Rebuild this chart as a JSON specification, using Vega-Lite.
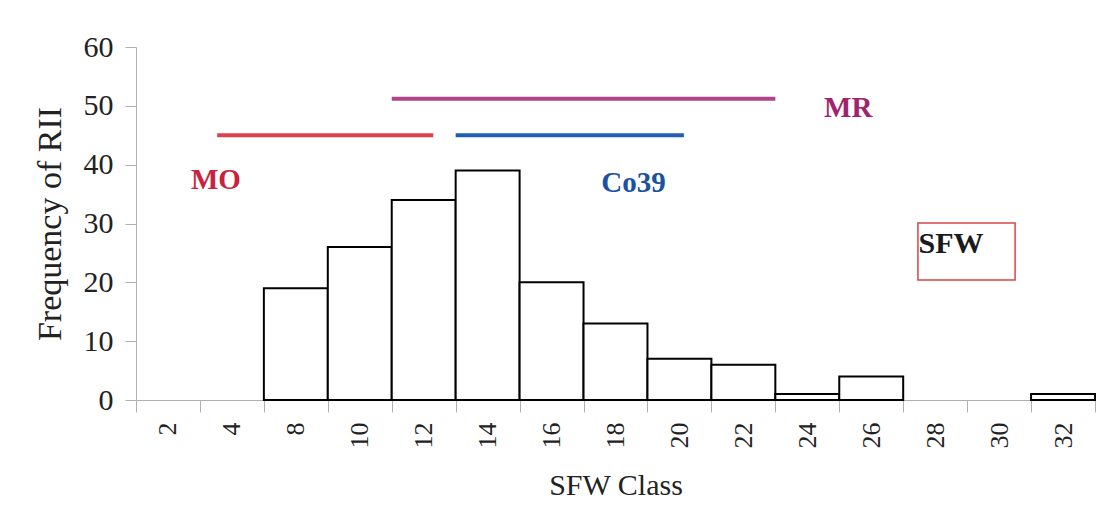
{
  "$schema": "https://vega.github.io/schema/vega-lite/v6.json",
  "autosize": {"type": "none"},
  "padding": {"left": 136, "top": 47, "right": 2, "bottom": 120},
  "width": 959,
  "height": 353,
  "background": "white",
  "config": {
    "view": {"stroke": null},
    "font": "Liberation Serif",
    "axis": {
      "labelFont": "Liberation Serif",
      "titleFont": "Liberation Serif",
      "labelColor": "#222",
      "titleColor": "#222",
      "titleFontWeight": "normal",
      "domainColor": "#b0b0b0",
      "tickColor": "#b0b0b0",
      "grid": false
    }
  },
  "datasets": {
    "classes": [
      {"sfw": 2, "freq": 0},
      {"sfw": 4, "freq": 0},
      {"sfw": 8, "freq": 19},
      {"sfw": 10, "freq": 26},
      {"sfw": 12, "freq": 34},
      {"sfw": 14, "freq": 39},
      {"sfw": 16, "freq": 20},
      {"sfw": 18, "freq": 13},
      {"sfw": 20, "freq": 7},
      {"sfw": 22, "freq": 6},
      {"sfw": 24, "freq": 1},
      {"sfw": 26, "freq": 4},
      {"sfw": 28, "freq": 0},
      {"sfw": 30, "freq": 0},
      {"sfw": 32, "freq": 1}
    ],
    "ranges": [
      {"name": "MO", "from": 1.27, "to": 4.65, "level": 45, "tx": 1.25, "ty": 37.4},
      {"name": "MR", "from": 4.0, "to": 10.0, "level": 51.2, "tx": 11.14, "ty": 49.6},
      {"name": "Co39", "from": 5.0, "to": 8.57, "level": 45, "tx": 7.78, "ty": 36.9}
    ],
    "legendBox": [
      {"label": "SFW", "x0": 12.23, "x1": 13.75, "y0": 20.4, "y1": 30.1, "tx": 12.24, "ty": 25.0}
    ]
  },
  "layer": [
    {
      "data": {"name": "classes"},
      "mark": {"type": "bar", "fill": "white", "stroke": "black", "strokeWidth": 2},
      "encoding": {
        "x": {
          "field": "sfw",
          "type": "ordinal",
          "scale": {"paddingInner": 0, "paddingOuter": 0},
          "axis": {
            "title": "SFW Class",
            "titleFont": "Liberation Serif",
            "titleFontSize": 30,
            "titlePadding": 22,
            "labelFont": "Liberation Serif",
            "labelAngle": 270,
            "labelFontSize": 26,
            "labelPadding": 10,
            "tickBand": "extent",
            "tickSize": 12
          }
        },
        "y": {
          "field": "freq",
          "type": "quantitative",
          "scale": {"domain": [0, 60], "nice": false},
          "axis": {
            "title": "Frequency  of RII",
            "titleFont": "Liberation Serif",
            "titleFontSize": 34,
            "titlePadding": 16,
            "values": [0, 10, 20, 30, 40, 50, 60],
            "labelFont": "Liberation Serif",
            "labelFontSize": 30,
            "labelPadding": 12,
            "tickSize": 11
          }
        },
        "strokeOpacity": {"condition": {"test": "datum.freq == 0", "value": 0}, "value": 1}
      }
    },
    {
      "data": {"name": "ranges"},
      "mark": {"type": "rule", "strokeWidth": 4},
      "encoding": {
        "x": {"field": "from", "type": "quantitative", "scale": {"domain": [0, 15], "nice": false, "zero": false}, "axis": null},
        "x2": {"field": "to"},
        "y": {"field": "level", "type": "quantitative", "scale": {"domain": [0, 60], "nice": false}},
        "color": {
          "field": "name",
          "type": "nominal",
          "scale": {"domain": ["MO", "MR", "Co39"], "range": ["#e0404e", "#b0438c", "#1f5fb5"]},
          "legend": null
        }
      }
    },
    {
      "data": {"name": "ranges"},
      "mark": {"type": "text", "font": "Liberation Serif", "fontWeight": "bold", "fontSize": 29, "align": "center", "baseline": "middle"},
      "encoding": {
        "x": {"field": "tx", "type": "quantitative", "scale": {"domain": [0, 15], "nice": false, "zero": false}, "axis": null},
        "y": {"field": "ty", "type": "quantitative", "scale": {"domain": [0, 60], "nice": false}},
        "text": {"field": "name"},
        "color": {
          "field": "name",
          "type": "nominal",
          "scale": {"domain": ["MO", "MR", "Co39"], "range": ["#c8223e", "#a0236f", "#1a52a3"]},
          "legend": null
        }
      }
    },
    {
      "data": {"name": "legendBox"},
      "mark": {"type": "rect", "fill": "white", "fillOpacity": 0, "stroke": "#d24848", "strokeWidth": 1.5},
      "encoding": {
        "x": {"field": "x0", "type": "quantitative", "scale": {"domain": [0, 15], "nice": false, "zero": false}, "axis": null},
        "x2": {"field": "x1"},
        "y": {"field": "y0", "type": "quantitative", "scale": {"domain": [0, 60], "nice": false}},
        "y2": {"field": "y1"}
      }
    },
    {
      "data": {"name": "legendBox"},
      "mark": {"type": "text", "font": "Liberation Serif", "fontWeight": "bold", "fontSize": 30, "align": "left", "baseline": "alphabetic", "color": "#1a1a1a"},
      "encoding": {
        "x": {"field": "tx", "type": "quantitative", "scale": {"domain": [0, 15], "nice": false, "zero": false}, "axis": null},
        "y": {"field": "ty", "type": "quantitative", "scale": {"domain": [0, 60], "nice": false}},
        "text": {"field": "label"}
      }
    }
  ],
  "resolve": {"scale": {"x": "independent", "color": "independent"}}
}
